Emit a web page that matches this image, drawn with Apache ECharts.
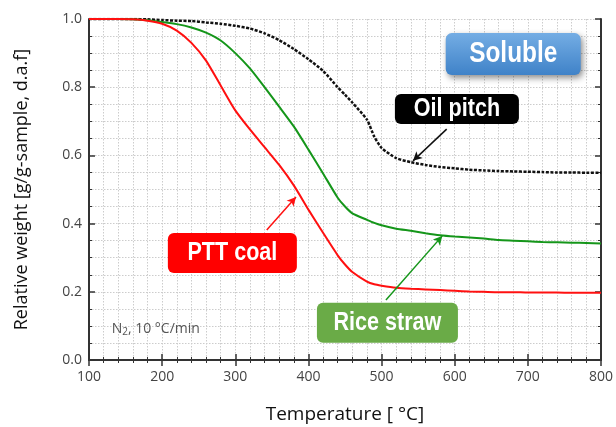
<!DOCTYPE html>
<html><head><meta charset="utf-8">
<script src="https://cdn.jsdelivr.net/npm/echarts@6/dist/echarts.min.js"></script>
<style>html,body{margin:0;padding:0;background:#fff}#c{width:616px;height:427px}</style>
</head><body><div id="c"></div>
<script>
// Temperature [°C]
const temperatures = [100,120,140,160,180,200,220,240,260,280,300,320,340,360,380,400,420,440,450,460,480,490,500,520,540,560,580,600,620,640,660,680,700,720,740,760,780,800];
// Relative weight [g/g-sample, d.a.f]
const pttCoal   = [1.000,1.000,1.000,0.999,0.995,0.986,0.966,0.930,0.878,0.805,0.732,0.676,0.624,0.572,0.512,0.441,0.373,0.307,0.280,0.258,0.230,0.222,0.218,0.212,0.209,0.207,0.205,0.203,0.201,0.200,0.199,0.199,0.198,0.198,0.198,0.197,0.197,0.197];
const riceStraw = [1.000,1.000,1.000,0.999,0.996,0.991,0.985,0.975,0.960,0.937,0.900,0.855,0.800,0.743,0.685,0.617,0.547,0.476,0.450,0.430,0.411,0.402,0.395,0.385,0.379,0.372,0.366,0.362,0.359,0.356,0.352,0.350,0.348,0.346,0.345,0.344,0.343,0.342];
const oilPitch  = [1.000,1.000,1.000,1.000,0.999,0.997,0.995,0.994,0.990,0.986,0.980,0.972,0.958,0.938,0.912,0.882,0.848,0.800,0.778,0.755,0.705,0.655,0.622,0.592,0.580,0.572,0.566,0.562,0.558,0.556,0.554,0.553,0.552,0.551,0.550,0.550,0.549,0.549];
const seriesNames = ['PTT coal','Rice straw','Oil pitch'];
// annotation arrows (data coords: from -> to)
const arrowPTT  = [[343,0.381],[383,0.478]];
const arrowRice = [[506,0.176],[583,0.364]];
const arrowOil  = [[589,0.677],[543,0.584]];

const pair = arr => temperatures.map((t,i)=>[t,arr[i]]);
const chart = echarts.init(document.getElementById('c'), null, {renderer:'canvas'});
const FONT = '"Open Sans", "DejaVu Sans", sans-serif';
const tickLab = {color:'#444', fontSize:14, fontFamily:FONT};
const gridDot = {show:true, lineStyle:{color:'#cccccc', type:[1.5,1.5], width:1}};
function arrow(pts,color){
  return {silent:true, symbol:['none','arrow'], symbolSize:[7,9], animation:false,
    lineStyle:{color:color,type:'solid',width:1.5}, label:{show:false},
    data:[[{coord:pts[0]},{coord:pts[1]}]]};
}
chart.setOption({
  animation:false,
  grid:{left:89, top:19, right:15, bottom:67, containLabel:false, outerBoundsMode:'none'},
  xAxis:[{
    type:'value', min:100, max:800, interval:100,
    name:'Temperature [ °C]', nameLocation:'middle', nameGap:45,
    nameTextStyle:{color:'#111', fontSize:19, fontFamily:FONT},
    axisLine:{show:true, lineStyle:{color:'#333', width:2}},
    axisTick:{show:true, inside:true, length:6, lineStyle:{color:'#333', width:1.5}},
    minorTick:{show:true, splitNumber:5, length:3, lineStyle:{color:'#333', width:1}},
    axisLabel:Object.assign({margin:10}, tickLab),
    splitLine:gridDot, minorSplitLine:gridDot
  },{
    type:'value', min:100, max:800, interval:100, position:'top',
    axisLine:{show:true, lineStyle:{color:'#333', width:2}},
    axisTick:{show:true, inside:true, length:6, lineStyle:{color:'#333', width:1.5}},
    minorTick:{show:true, splitNumber:5, length:3, lineStyle:{color:'#333', width:1}},
    axisLabel:{show:false}, splitLine:{show:false}
  }],
  yAxis:[{
    type:'value', min:0, max:1, interval:0.2,
    name:'Relative weight [g/g-sample, d.a.f]', nameLocation:'middle', nameGap:58,
    nameTextStyle:{color:'#111', fontSize:18, fontFamily:FONT},
    axisLine:{show:true, lineStyle:{color:'#333', width:2}},
    axisTick:{show:true, inside:true, length:6, lineStyle:{color:'#333', width:1.5}},
    minorTick:{show:true, splitNumber:4, length:3, lineStyle:{color:'#333', width:1}},
    axisLabel:Object.assign({margin:7, formatter:v=>v.toFixed(1)}, tickLab),
    splitLine:gridDot, minorSplitLine:gridDot
  },{
    type:'value', min:0, max:1, interval:0.2, position:'right',
    axisLine:{show:true, lineStyle:{color:'#333', width:2}},
    axisTick:{show:true, inside:true, length:6, lineStyle:{color:'#333', width:1.5}},
    minorTick:{show:true, splitNumber:4, length:3, lineStyle:{color:'#333', width:1}},
    axisLabel:{show:false}, splitLine:{show:false}
  }],
  series:[
    {name:seriesNames[0], type:'line', data:pair(pttCoal), showSymbol:false, smooth:0.2,
     lineStyle:{color:'#ff1010', width:2}, markLine:arrow(arrowPTT,'#ff1010'), z:4},
    {name:seriesNames[1], type:'line', data:pair(riceStraw), showSymbol:false, smooth:0.2,
     lineStyle:{color:'#15961a', width:2}, markLine:arrow(arrowRice,'#15961a'), z:3},
    {name:seriesNames[2], type:'line', data:pair(oilPitch), showSymbol:false, smooth:0.2,
     lineStyle:{color:'#111', width:2.5, type:[3,1.5]}, markLine:arrow(arrowOil,'#111'), z:2}
  ]
});

function box(center, w, h, fill, text, fontSize, sx, shadow){
  const p = chart.convertToPixel({gridIndex:0}, center);
  const rect = {type:'rect', shape:{x:-w/2,y:-h/2,width:w,height:h,r:6}, style:{fill:fill}};
  if (shadow) Object.assign(rect.style, {shadowBlur:6, shadowColor:'rgba(0,0,0,0.45)', shadowOffsetX:2, shadowOffsetY:3});
  return {type:'group', x:p[0], y:p[1], z:100, children:[rect,
    {type:'text', scaleX:sx, style:{text:text, x:0, y:0, align:'center', verticalAlign:'middle',
      font:'bold '+fontSize+'px "Liberation Sans", Arial, sans-serif', fill:'#fff'}}]};
}
const nPos = chart.convertToPixel({gridIndex:0}, [131, 0.067]);
chart.setOption({graphic:[
  box([680,0.897],135,42,new echarts.graphic.LinearGradient(0,0,0,1,[{offset:0,color:'#74ade4'},{offset:1,color:'#3f82c8'}]),'Soluble',29,0.84,true),
  box([603,0.736],124,30,'#000','Oil pitch',26,0.83,false),
  box([296,0.314],129,40,'#ff0000','PTT coal',26,0.83,false),
  box([508,0.109],141,40,'#6aab47','Rice straw',26,0.83,false),
  {type:'text', x:nPos[0], y:nPos[1], z:100, style:{
    text:'N{s|2}, 10 °C/min', font:'14px '+FONT, fill:'#555', verticalAlign:'bottom',
    rich:{s:{fontSize:10, fontFamily:FONT, fill:'#555', padding:[6,0,0,0]}}}}
]});
</script></body></html>
